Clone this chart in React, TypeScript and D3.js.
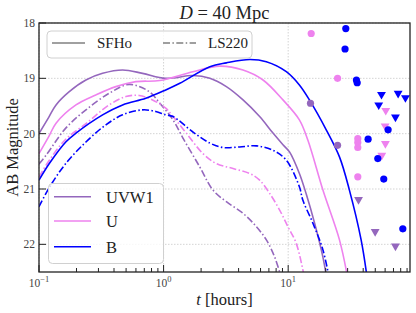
import { useEffect, useRef } from 'react';
import * as d3 from 'd3';

// model light curves, [t (hours), AB mag]
const uvw1SFHo: [number, number][] = [
  [0.1, 20.0], [0.12, 19.7], [0.137, 19.48], [0.175, 19.24], [0.238, 19.03], [0.324, 18.91],
  [0.469, 18.85], [0.678, 18.91], [1.04, 19.0], [1.72, 18.95], [2.35, 19.0], [3.19, 19.15],
  [4.34, 19.39], [5.9, 19.69], [7.55, 19.99], [9.08, 20.2], [10.25, 20.33], [12.3, 20.72],
  [14.0, 21.1], [16.3, 21.62], [19.0, 22.23], [20.5, 22.65],
];
const uSFHo: [number, number][] = [
  [0.1, 20.36], [0.12, 20.05], [0.137, 19.81], [0.198, 19.48], [0.286, 19.3], [0.414, 19.15],
  [0.599, 19.06], [0.933, 19.04], [1.72, 18.88], [2.82, 18.78], [4.34, 18.85], [6.28, 19.03],
  [9.08, 19.39], [12.3, 19.75], [14.4, 20.12], [19.0, 21.02], [25.8, 21.92], [30.0, 22.6],
];
const bSFHo: [number, number][] = [
  [0.1, 20.84], [0.121, 20.54], [0.164, 20.15], [0.198, 19.99], [0.324, 19.66], [0.469, 19.48],
  [0.72, 19.36], [1.04, 19.21], [1.35, 19.09], [2.35, 18.79], [3.19, 18.72], [4.91, 18.66],
  [6.68, 18.7], [9.66, 18.88], [12.3, 19.12], [14.8, 19.39], [20.2, 19.93], [25.8, 20.42],
  [31.0, 21.02], [38.5, 21.92], [43.0, 22.6],
];
const uvw1LS220: [number, number][] = [
  [0.1, 20.55], [0.114, 20.39], [0.164, 19.9], [0.238, 19.57], [0.366, 19.27], [0.53, 19.11],
  [0.766, 19.24], [0.933, 19.45], [1.19, 19.75], [1.43, 20.08], [1.95, 20.6], [2.49, 21.02],
  [3.19, 21.23], [4.34, 21.44], [5.55, 21.68], [6.68, 21.92], [7.79, 22.23], [8.8, 22.6],
];
const uLS220: [number, number][] = [
  [0.1, 20.78], [0.121, 20.48], [0.164, 20.1], [0.238, 19.82], [0.366, 19.48], [0.498, 19.33],
  [0.637, 19.31], [0.815, 19.39], [1.04, 19.54], [1.19, 19.69], [1.52, 19.99], [2.07, 20.36],
  [2.65, 20.54], [3.61, 20.63], [4.91, 20.72], [5.9, 20.84], [7.1, 21.08], [8.54, 21.38],
  [9.94, 21.68], [11.6, 21.98], [13.5, 22.6],
];
const bLS220: [number, number][] = [
  [0.1, 21.32], [0.122, 20.96], [0.164, 20.54], [0.238, 20.15], [0.344, 19.84], [0.469, 19.66],
  [0.678, 19.57], [0.865, 19.6], [1.04, 19.66], [1.19, 19.69], [1.72, 19.97], [2.35, 20.17],
  [3.0, 20.25], [4.08, 20.24], [5.55, 20.22], [7.55, 20.3], [9.66, 20.48], [12.3, 20.96],
  [13.1, 21.2], [15.8, 21.62], [19.0, 22.1], [21.3, 22.6],
];

// observations: detections (circles) and upper limits (triangles)
const uvw1Det: [number, number][] = [[15.1, 19.45], [24.9, 20.21]];
const uvw1Lim: [number, number][] = [[36.7, 21.2], [49.9, 21.78], [72.6, 22.04]];
const uDet: [number, number][] = [
  [15.3, 18.19], [24.9, 19.0], [36.2, 20.09], [36.2, 20.16], [36.2, 20.25], [36.2, 20.78],
];
const uLim: [number, number][] = [[60.7, 19.59], [60.0, 19.87], [60.3, 20.19], [56.4, 20.4]];
const bDet: [number, number][] = [
  [29.0, 18.1], [28.6, 18.47], [35.3, 19.03], [35.8, 19.08], [63.4, 19.93], [43.8, 20.1],
  [52.4, 20.45], [58.5, 20.82], [83.2, 21.72],
];
const bLim: [number, number][] = [[56.1, 19.3], [76.3, 19.28], [87.3, 19.36], [53.3, 19.49], [72.6, 19.71]];

const bands = ['UVW1', 'U', 'B'];
const bandColors = ['#9467bd', '#ee82ee', '#0000ff'];
const eosLabels = ['SFHo', 'LS220'];
const yTicks = [18, 19, 20, 21, 22];
const xTicks = [0.1, 1, 10];
const xTickExp = ['\u22121', '0', '1'];

const FONT = '"Liberation Serif", "Times New Roman", serif';

export default function App() {
  const svgRef = useRef<SVGSVGElement>(null);

  useEffect(() => {
    if (!svgRef.current) return;
    const svg = d3.select(svgRef.current);
    svg.selectAll('*').remove();

    const left = 39, right = 410, top = 23, bottom = 272;
    const x = d3.scaleLog().domain([0.1, 95]).range([left, right]);
    const y = d3.scaleLinear().domain([18, 22.5]).range([top, bottom]);

    svg.append('defs').append('clipPath').attr('id', 'plot-clip')
      .append('rect').attr('x', left).attr('y', top).attr('width', right - left).attr('height', bottom - top);

    // grid
    const grid = svg.append('g').attr('stroke', '#c8c8c8').attr('stroke-width', 0.8).attr('stroke-dasharray', '1.5,1.5');
    xTicks.forEach(t => {
      grid.append('line').attr('x1', x(t)).attr('x2', x(t)).attr('y1', top).attr('y2', bottom);
    });
    yTicks.forEach(m => {
      grid.append('line').attr('x1', left).attr('x2', right).attr('y1', y(m)).attr('y2', y(m));
    });

    const g = svg.append('g').attr('clip-path', 'url(#plot-clip)');
    const line = d3.line<[number, number]>()
      .x(d => x(d[0]))
      .y(d => y(d[1]))
      .curve(d3.curveCatmullRom.alpha(0.5));

    const curves: { data: [number, number][]; band: number; dashed: boolean }[] = [
      { data: uvw1SFHo, band: 0, dashed: false },
      { data: uvw1LS220, band: 0, dashed: true },
      { data: uSFHo, band: 1, dashed: false },
      { data: uLS220, band: 1, dashed: true },
      { data: bSFHo, band: 2, dashed: false },
      { data: bLS220, band: 2, dashed: true },
    ];
    curves.forEach(c => {
      g.append('path')
        .attr('d', line(c.data))
        .attr('fill', 'none')
        .attr('stroke', bandColors[c.band])
        .attr('stroke-width', 1.6)
        .attr('stroke-dasharray', c.dashed ? '7,2.4,1.5,2.4' : null);
    });

    const dets = [uvw1Det, uDet, bDet];
    const lims = [uvw1Lim, uLim, bLim];
    const tri = d3.symbol(d3.symbolTriangle, 34)();
    [0, 1, 2].forEach(b => {
      g.selectAll(null).data(dets[b]).join('circle')
        .attr('cx', d => x(d[0])).attr('cy', d => y(d[1])).attr('r', 3.6)
        .attr('fill', bandColors[b]);
      g.selectAll(null).data(lims[b]).join('path')
        .attr('d', tri)
        .attr('transform', d => `translate(${x(d[0])},${y(d[1]) - 0.5}) rotate(180)`)
        .attr('fill', bandColors[b]);
    });

    // frame
    svg.append('rect').attr('x', left).attr('y', top).attr('width', right - left).attr('height', bottom - top)
      .attr('fill', 'none').attr('stroke', '#222').attr('stroke-width', 1.3);

    // ticks (inward)
    const ticks = svg.append('g').attr('stroke', '#222').attr('stroke-width', 1);
    yTicks.forEach(m => {
      ticks.append('line').attr('x1', left).attr('x2', left + 7).attr('y1', y(m)).attr('y2', y(m));
      svg.append('text').attr('x', left - 4).attr('y', y(m) + 4).attr('text-anchor', 'end')
        .attr('font-family', FONT).attr('font-size', 11.5).attr('fill', '#444').text(String(m));
    });
    const minor: number[] = [];
    [0.1, 1, 10].forEach(dec => {
      for (let k = 2; k <= 9; k++) if (dec * k <= 95) minor.push(dec * k);
    });
    minor.forEach(t => {
      ticks.append('line').attr('x1', x(t)).attr('x2', x(t)).attr('y1', bottom).attr('y2', bottom - 4);
    });
    xTicks.forEach((t, i) => {
      ticks.append('line').attr('x1', x(t)).attr('x2', x(t)).attr('y1', bottom).attr('y2', bottom - 7);
      const txt = svg.append('text').attr('x', x(t)).attr('y', bottom + 15).attr('text-anchor', 'middle')
        .attr('font-family', FONT).attr('font-size', 11.5).attr('fill', '#444');
      txt.append('tspan').text('10');
      txt.append('tspan').attr('dy', -5).attr('font-size', 8.5).text(xTickExp[i]);
    });

    // axis labels and title
    const xl = svg.append('text').attr('x', (left + right) / 2).attr('y', 305).attr('text-anchor', 'middle')
      .attr('font-family', FONT).attr('font-size', 16.5).attr('fill', '#222');
    xl.append('tspan').attr('font-style', 'italic').text('t');
    xl.append('tspan').text(' [hours]');

    svg.append('text').attr('transform', `translate(18,${(top + bottom) / 2}) rotate(-90)`)
      .attr('text-anchor', 'middle').attr('font-family', FONT).attr('font-size', 16.5).attr('fill', '#222')
      .text('AB Magnitude');

    const title = svg.append('text').attr('x', (left + right) / 2).attr('y', 19).attr('text-anchor', 'middle')
      .attr('font-family', FONT).attr('font-size', 18.5).attr('fill', '#222');
    title.append('tspan').attr('font-style', 'italic').text('D');
    title.append('tspan').text(' = 40 Mpc');

    // legend: EOS
    svg.append('rect').attr('x', 47).attr('y', 31).attr('width', 205).attr('height', 27).attr('rx', 4)
      .attr('fill', 'rgba(255,255,255,0.8)').attr('stroke', '#d0d0d0').attr('stroke-width', 1);
    const eosX = [52, 163];
    eosLabels.forEach((lab, i) => {
      svg.append('line').attr('x1', eosX[i]).attr('x2', eosX[i] + 33).attr('y1', 43).attr('y2', 43)
        .attr('stroke', '#808080').attr('stroke-width', 1.6)
        .attr('stroke-dasharray', i === 1 ? '7,2.4,1.5,2.4' : null);
      svg.append('text').attr('x', eosX[i] + 45).attr('y', 48).attr('font-family', FONT)
        .attr('font-size', 15).attr('fill', '#222').text(lab);
    });

    // legend: bands
    svg.append('rect').attr('x', 48.5).attr('y', 183.5).attr('width', 115).attr('height', 80).attr('rx', 4)
      .attr('fill', 'rgba(255,255,255,0.8)').attr('stroke', '#d0d0d0').attr('stroke-width', 1);
    const bandY = [196.7, 221, 246.7];
    bands.forEach((lab, i) => {
      svg.append('line').attr('x1', 54).attr('x2', 91).attr('y1', bandY[i]).attr('y2', bandY[i])
        .attr('stroke', bandColors[i]).attr('stroke-width', 1.6);
      svg.append('text').attr('x', 106).attr('y', bandY[i] + 6).attr('font-family', FONT)
        .attr('font-size', 16.5).attr('fill', '#222').text(lab);
    });
  }, []);

  return (
    <svg
      ref={svgRef}
      width={416}
      height={313}
      style={{ position: 'absolute', left: 0, top: 0, background: '#fff' }}
    />
  );
}
